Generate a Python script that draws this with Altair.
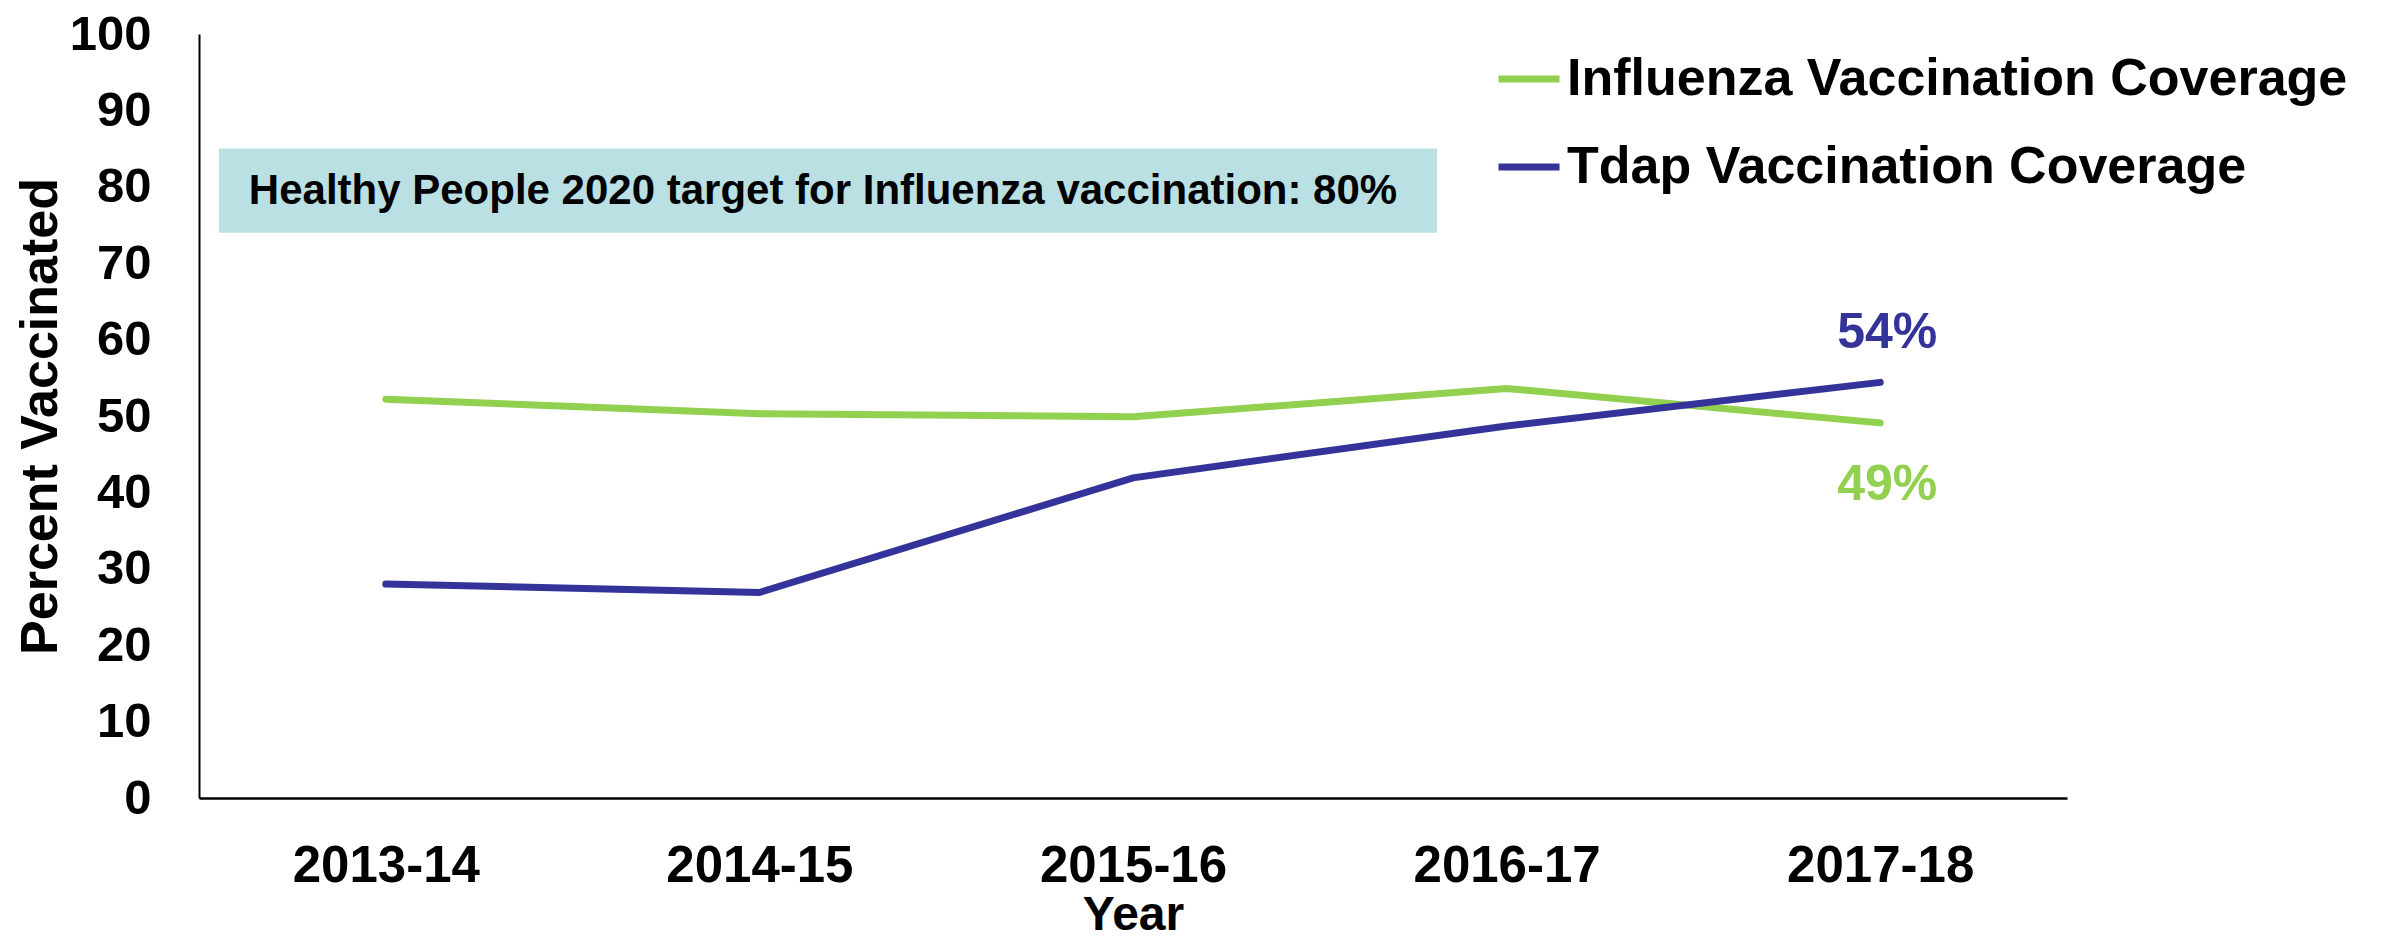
import altair as alt
import pandas as pd

years = ["2013-14", "2014-15", "2015-16", "2016-17", "2017-18"]
influenza = [52.2, 50.3, 49.9, 53.6, 49.1]
tdap = [28.0, 26.9, 41.9, 48.7, 54.4]
series_names = ["Influenza Vaccination Coverage", "Tdap Vaccination Coverage"]
series_colors = ["#92D050", "#333399"]

target_text = ["Healthy People 2020 target for Influenza vaccination: 80%"]
target_box_low = [74]
target_box_high = [85]

rows = []
for y, v in zip(years, influenza):
    rows.append({"year": y, "value": v, "series": series_names[0]})
for y, v in zip(years, tdap):
    rows.append({"year": y, "value": v, "series": series_names[1]})
df = pd.DataFrame(rows)

box_df = pd.DataFrame({
    "value": target_box_low,
    "value2": target_box_high,
    "mid": [(a + b) / 2 for a, b in zip(target_box_low, target_box_high)],
    "label": target_text,
})

FONT = "Liberation Sans"

y_enc = alt.Y(
    "value:Q",
    scale=alt.Scale(domain=[0, 100]),
    title="Percent Vaccinated",
    axis=alt.Axis(
        values=list(range(0, 101, 10)),
        labelFont=FONT, labelFontSize=49, labelFontWeight="bold",
        labelColor="black", labelPadding=48,
        titleFont=FONT, titleFontSize=52, titleFontWeight="bold",
        titleColor="black", titlePadding=2,
        ticks=False, grid=False, domainColor="black", domainWidth=2,
    ),
)

x_enc = alt.X(
    "year:O",
    sort=years,
    title="Year",
    scale=alt.Scale(type="point", padding=0.5),
    axis=alt.Axis(
        labelAngle=0,
        labelFont=FONT, labelFontSize=51, labelFontWeight="bold",
        labelColor="black", labelPadding=43, labelLimit=0,
        titleFont=FONT, titleFontSize=48, titleFontWeight="bold",
        titleColor="black", titleBaseline="alphabetic", titleY=131,
        ticks=False, grid=False, domainColor="black", domainWidth=2.5,
    ),
)

box = alt.Chart(box_df).mark_rect(color="#BBE0E3").encode(
    x=alt.value(20), x2=alt.value(1238),
    y=alt.Y("value:Q", scale=alt.Scale(domain=[0, 100]), title="Percent Vaccinated"),
    y2="value2:Q",
)

box_text = alt.Chart(box_df).mark_text(
    font=FONT, fontSize=42, fontWeight="bold", color="black",
    align="center", baseline="middle",
).encode(
    x=alt.value(624),
    y=alt.Y("mid:Q", scale=alt.Scale(domain=[0, 100]), title="Percent Vaccinated"),
    text="label:N",
)

color_enc = alt.Color(
    "series:N",
    scale=alt.Scale(domain=series_names, range=series_colors),
    legend=alt.Legend(
        title=None, orient="none", legendX=1296, legendY=11,
        symbolType="stroke", symbolSize=3721, symbolStrokeWidth=7,
        labelFont=FONT, labelFontSize=52, labelFontWeight="bold",
        labelColor="black", labelOffset=4, rowPadding=28, padding=0,
        labelLimit=2000,
    ),
)

lines = alt.Chart(df).mark_line(strokeWidth=7, strokeCap="round").encode(
    x=x_enc, y=y_enc, color=color_enc,
)

last = years[-1]
end_base = alt.Chart(df).transform_filter(
    alt.datum.year == last
).transform_calculate(
    lab="format(datum.value, '.0f') + '%'"
)

tdap_label = end_base.transform_filter(alt.datum.series == series_names[1]).mark_text(
    font=FONT, fontSize=50, fontWeight="bold", align="center",
    baseline="middle", dy=-49, dx=7, color=series_colors[1],
).encode(x=alt.X("year:O", sort=years), y=alt.Y("value:Q"), text="lab:N")

flu_label = end_base.transform_filter(alt.datum.series == series_names[0]).mark_text(
    font=FONT, fontSize=50, fontWeight="bold", align="center",
    baseline="middle", dy=62, dx=7, color=series_colors[0],
).encode(x=alt.X("year:O", sort=years), y=alt.Y("value:Q"), text="lab:N")

chart = alt.layer(box, box_text, lines, tdap_label, flu_label).properties(
    width=1868, height=764,
    autosize=alt.AutoSizeParams(type="none"),
    padding={"left": 191, "top": 26, "right": 300, "bottom": 139},
    background="white",
).configure_view(stroke=None)

chart.save("out.html", embed_options={"renderer": "svg", "actions": False})
